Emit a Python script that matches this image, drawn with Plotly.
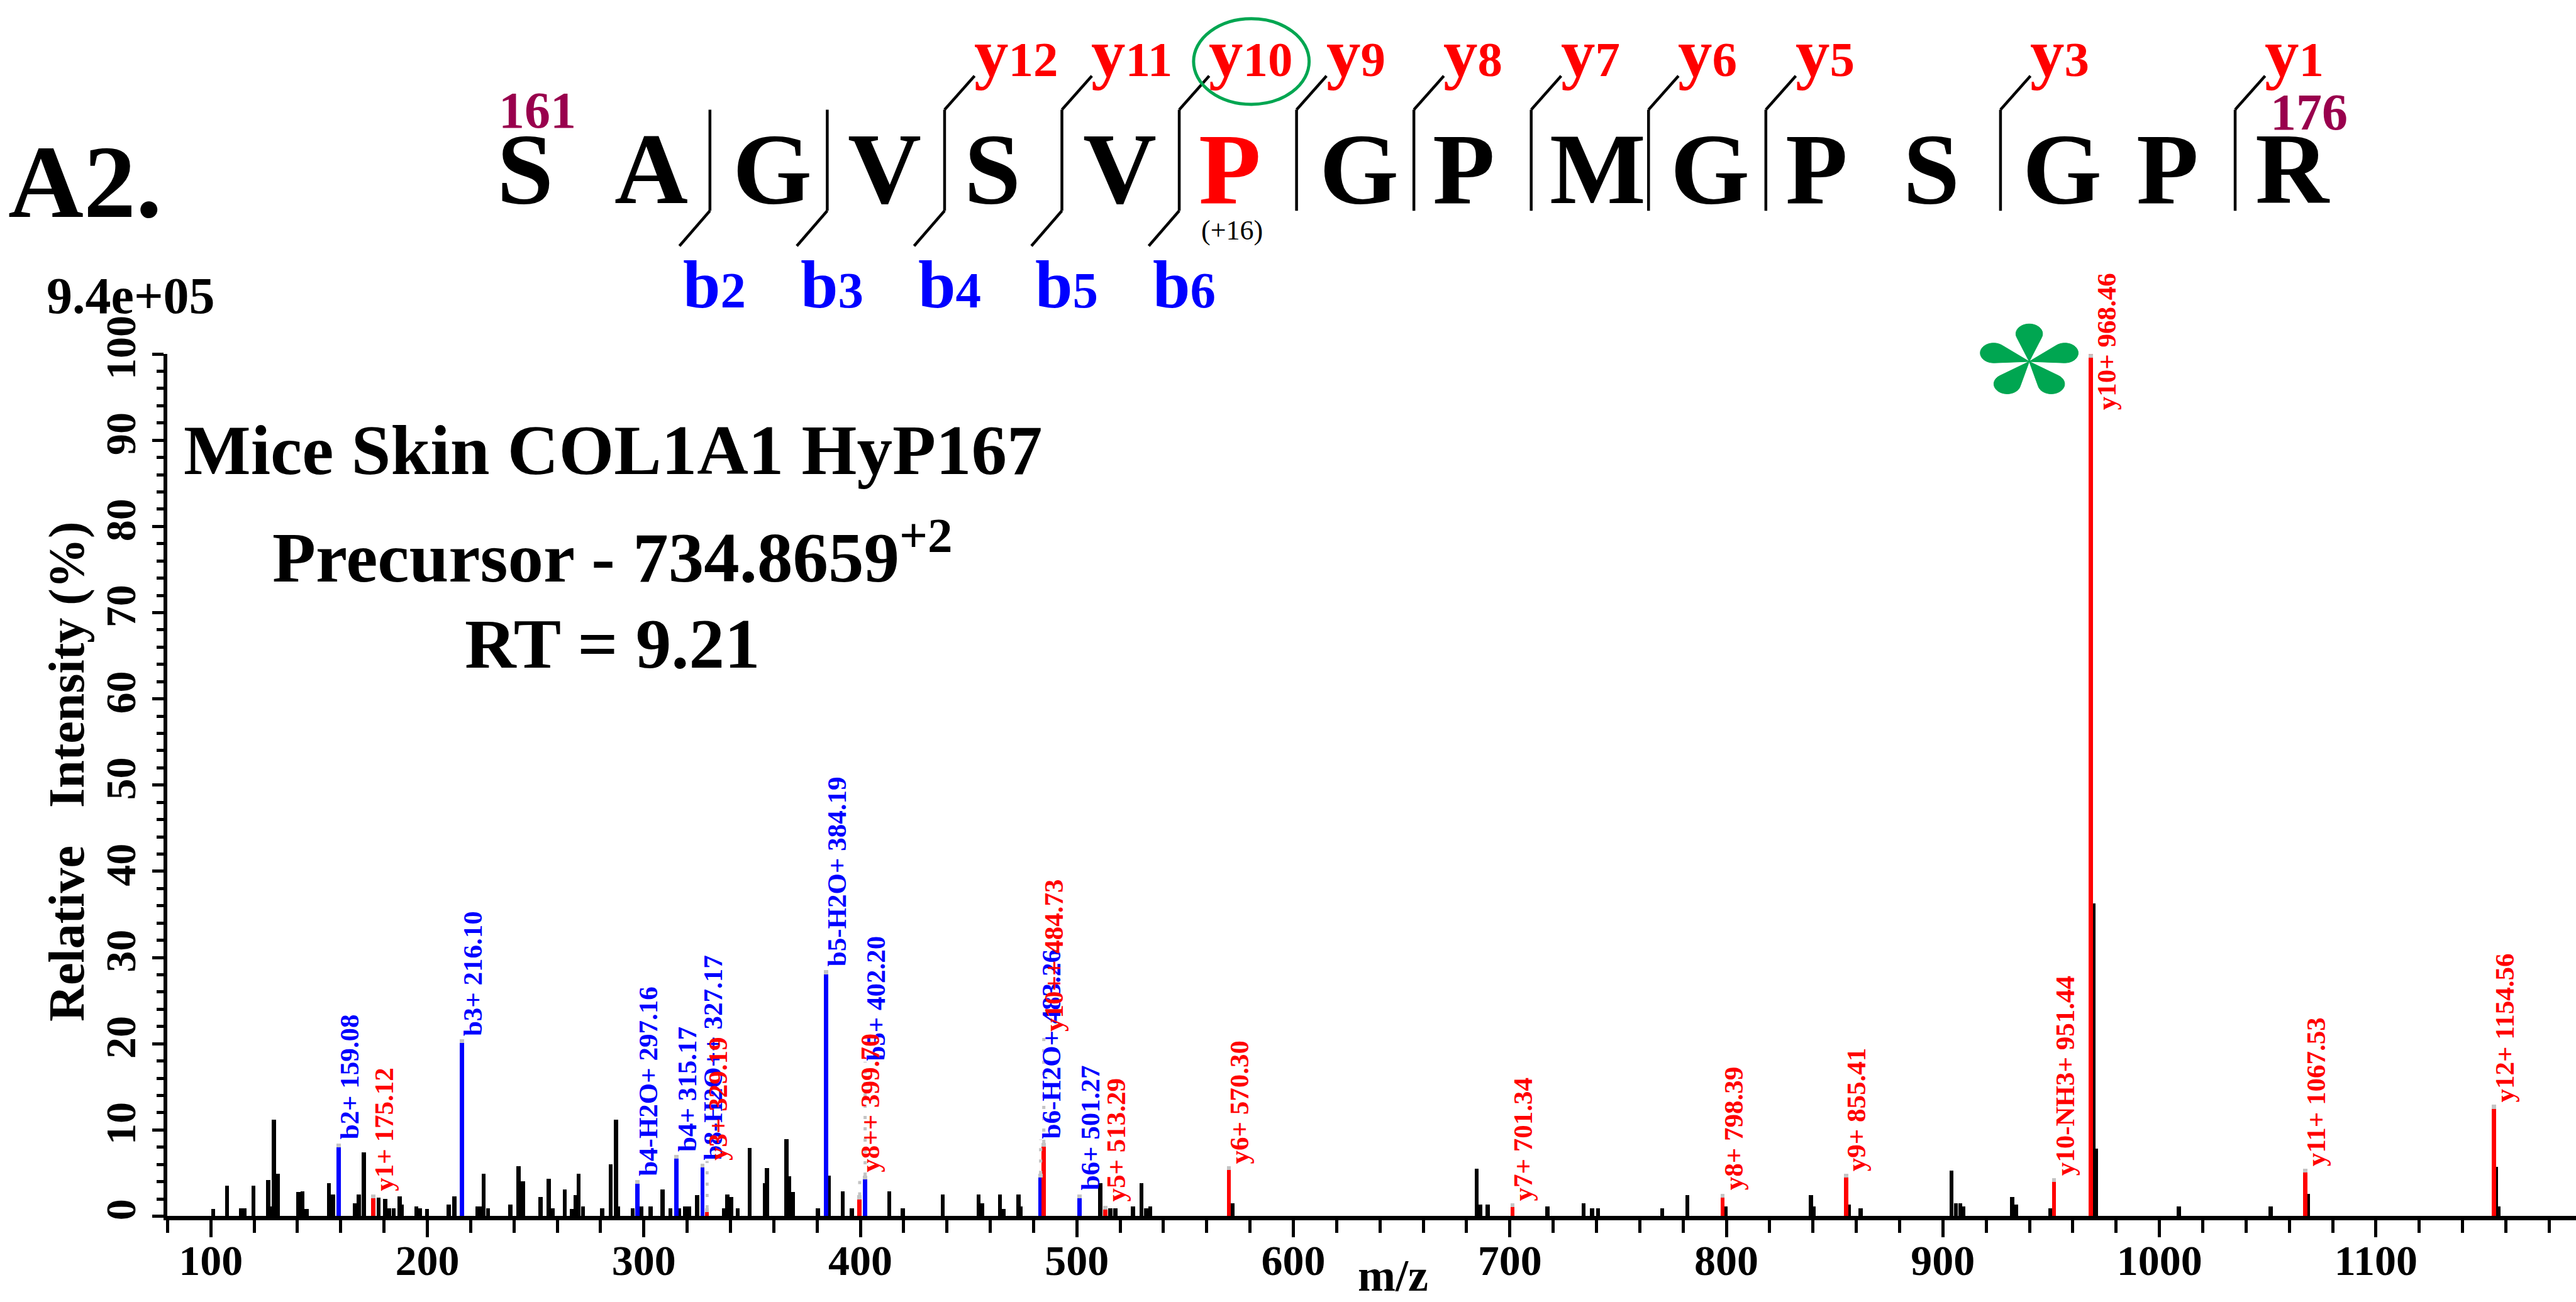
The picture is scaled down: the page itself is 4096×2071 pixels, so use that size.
import math
import plotly.graph_objects as go

W, H = 4096, 2071
K = W / 4815.0          # reference px -> window px
FONT = "Liberation Serif"

# ---------------- data ----------------
black_mz = [101.2, 107.6, 114.0, 115.6, 119.8, 126.6, 127.7, 129.3, 131.0, 140.5, 142.5, 144.3,
            154.6, 156.6, 166.5, 168.5, 170.7, 177.6, 180.7, 182.4, 184.6, 187.3, 188.4, 195.0,
            196.8, 199.9, 210.0, 212.6, 223.3, 224.8, 226.1, 228.1, 238.5, 242.2, 244.2, 252.4,
            256.1, 258.1, 263.6, 266.9, 268.5, 270.0, 272.0, 280.8, 284.8, 287.2, 288.3, 295.0,
            298.9, 303.3, 308.8, 312.4, 316.5, 319.2, 321.0, 324.7, 337.0, 338.6, 340.6, 343.5,
            349.0, 356.0, 356.9, 366.0, 367.3, 368.8, 380.5, 385.4, 392.0, 396.2, 413.5, 419.7,
            438.1, 454.7, 456.4, 464.6, 466.1, 473.1, 474.0, 510.9, 515.6, 517.9, 526.0, 530.0,
            532.1, 534.0, 572.0, 684.8, 686.5, 689.8, 717.5, 734.1, 738.1, 740.8, 770.5, 782.1,
            799.8, 839.1, 840.5, 856.5, 862.1, 904.1, 906.1, 908.1, 909.5, 932.1, 933.8, 949.8,
            969.6, 970.8, 1009.1, 1051.5, 1068.8, 1155.5, 1156.8]
black_int = [0.8, 3.5, 0.9, 0.9, 3.5, 4.2, 1.1, 11.2, 4.9, 2.8, 2.9, 0.8,
             3.8, 2.5, 1.5, 2.5, 7.4, 2.1, 2.0, 0.9, 0.9, 2.3, 1.3, 1.1,
             0.9, 0.8, 1.3, 2.3, 1.1, 1.1, 4.9, 0.9, 1.3, 5.8, 4.0, 2.2,
             4.3, 0.9, 3.1, 0.8, 2.4, 4.9, 1.1, 0.9, 6.0, 11.2, 1.1, 0.9,
             1.1, 1.1, 3.1, 0.9, 0.9, 1.1, 1.1, 2.4, 0.9, 2.5, 2.2, 0.9,
             7.9, 3.8, 5.6, 8.9, 4.6, 2.8, 0.9, 4.7, 2.9, 0.9, 2.9, 0.9,
             2.5, 2.5, 1.5, 2.5, 0.8, 2.5, 1.1, 3.8, 0.9, 0.9, 1.1, 3.8,
             0.9, 1.1, 1.5, 5.5, 1.3, 1.3, 1.1, 1.5, 0.9, 0.9, 0.9, 2.4,
             1.1, 2.4, 1.1, 1.3, 0.9, 5.3, 1.5, 1.5, 1.1, 2.2, 1.3, 0.9,
             36.3, 7.8, 1.1, 1.1, 2.6, 5.7, 1.1]

b_ion_labels = ["b2+ 159.08", "b3+ 216.10", "b4-H2O+ 297.16", "b4+ 315.17", "b8-H2O++ 327.17",
                "b5-H2O+ 384.19", "b5+ 402.20", "b6-H2O+ 483.26", "b6+ 501.27"]
b_ion_mz = [159.08, 216.10, 297.16, 315.17, 327.17, 384.19, 402.20, 483.26, 501.27]
b_ion_int = [8.4, 20.5, 4.2, 7.1, 6.1, 28.5, 4.7, 4.9, 2.5]
b_label_at = [8.8, 20.8, 4.6, 7.4, 6.4, 28.9, 17.9, 8.9, 2.9]

y_ion_labels = ["y1+ 175.12", "y3+ 329.19", "y8++ 399.70", "y10++ 484.73", "y5+ 513.29",
                "y6+ 570.30", "y7+ 701.34", "y8+ 798.39", "y9+ 855.41", "y10-NH3+ 951.44",
                "y10+ 968.46", "y11+ 1067.53", "y12+ 1154.56"]
y_ion_mz = [175.12, 329.19, 399.70, 484.73, 513.29, 570.30, 701.34, 798.39, 855.41, 951.44,
            968.46, 1067.53, 1154.56]
y_ion_int = [2.5, 0.9, 2.4, 8.5, 1.2, 5.8, 1.5, 2.6, 4.9, 4.4, 100.0, 5.5, 12.9]
y_label_at = [2.8, 6.4, 5.0, 21.3, 1.6, 6.0, 1.7, 2.9, 5.1, 4.6, 93.4, 5.7, 13.1]

sequence = list("SAGVSVPGPMGPSGPR")
modified_index = 6            # P (+16)
b_fragments = [2, 3, 4, 5, 6]
y_fragments = [12, 11, 10, 9, 8, 7, 6, 5, 3, 1]
start_residue, end_residue = "161", "176"
scale_text = "9.4e+05"
panel_text = "A2."
info_lines = ["Mice Skin COL1A1 HyP167", "Precursor - 734.8659<sup>+2</sup>", "RT = 9.21"]

BLUE, RED, GREEN, PURPLE, GREY = "#0000FF", "#FF0000", "#00A651", "#99004D", "#C4C4C4"

# ---------------- layout helpers (reference px -> paper) ----------------
def PX(x_ref):
    return x_ref * K / W

def PY(y_ref):
    return 1 - y_ref * K / H

def mid_from_base(base_ref, size_win):
    # centre of the text box, given the baseline (ref px) and font size (window px)
    return PY(base_ref - 0.3375 * size_win / K)

ann = []

def text(t, x, y, size, color="black", bold=True, xanchor="center", yanchor="middle",
         angle=0, xref="paper", yref="paper", xshift=0):
    ann.append(dict(text=t, x=x, y=y, xref=xref, yref=yref, showarrow=False,
                    font=dict(family=FONT, size=size, color=color,
                              weight="bold" if bold else "normal"),
                    xanchor=xanchor, yanchor=yanchor, textangle=angle, xshift=xshift,
                    borderpad=0))

fig = go.Figure()

# ---------------- spectrum ----------------
BW = 1.9
fig.add_trace(go.Bar(x=black_mz, y=black_int, width=BW, marker=dict(color="black", line=dict(width=0))))
fig.add_trace(go.Bar(x=b_ion_mz, y=b_ion_int, width=BW, marker=dict(color=BLUE, line=dict(width=0))))
fig.add_trace(go.Bar(x=y_ion_mz, y=y_ion_int, width=BW, marker=dict(color=RED, line=dict(width=0))))
cap = 0.45
all_mz = b_ion_mz + y_ion_mz
all_int = b_ion_int + y_ion_int
fig.add_trace(go.Bar(x=all_mz, y=[cap] * len(all_mz), base=[v - cap for v in all_int], width=BW,
                     marker=dict(color=GREY, line=dict(width=0))))

# dotted connectors for labels lifted above their peaks
dx, dy = [], []
for mz, v, lab in zip(all_mz, all_int, b_label_at + y_label_at):
    if lab > v + 1.0:
        dx += [mz, mz, None]
        dy += [v, lab, None]
fig.add_trace(go.Scatter(x=dx, y=dy, mode="lines",
                         line=dict(color=GREY, width=5, dash="5px,13px")))

for labs, mzs, ints, ats, col in [(b_ion_labels, b_ion_mz, b_ion_int, b_label_at, BLUE),
                                  (y_ion_labels, y_ion_mz, y_ion_int, y_label_at, RED)]:
    for lab, mz, v, at in zip(labs, mzs, ints, ats):
        shift = 0 if at < v else -8
        text(lab, mz, at, 43, color=col, xanchor="left", yanchor="bottom", angle=-90,
             xref="x", yref="y", xshift=shift)

# ---------------- peptide sequence ----------------
letter_cx = [981, 1217, 1443, 1653, 1855, 2093, 2299, 2540, 2736, 2987, 3196, 3395, 3610, 3854,
             4052, 4286]
SEQ_SIZE = 162
for i, (aa, cx) in enumerate(zip(sequence, letter_cx)):
    text(aa, PX(cx), mid_from_base(380, SEQ_SIZE), SEQ_SIZE,
         color=RED if i == modified_index else "black")
text("(+16)", PX(2303), PY(431), 44, bold=False)
text(start_residue, PX(1004), mid_from_base(239, 82), 82, color=PURPLE)
text(end_residue, PX(4316), mid_from_base(242, 82), 82, color=PURPLE)

n = len(sequence)
shapes = []
def sep_x(after):
    return 1327 + 219.3 * (after - 2)

def seg(x0, y0, x1, y1):
    shapes.append(dict(type="line", xref="paper", yref="paper", x0=PX(x0), y0=PY(y0),
                       x1=PX(x1), y1=PY(y1), line=dict(color="black", width=4.5)))

breaks = sorted(set(b_fragments) | set(n - f for f in y_fragments))
for j in breaks:
    seg(sep_x(j), 205, sep_x(j), 394)
for f in b_fragments:
    x = sep_x(f)
    seg(x, 394, x - 57, 460)
    text("b<span style='font-size:81px'>%d</span>" % f, PX(x - 51), mid_from_base(575, 107), 107,
         color=BLUE, xanchor="left")
for f in y_fragments:
    x = sep_x(n - f)
    seg(x, 205, x + 56, 142)
    text("y<span style='font-size:79px'>%d</span>" % f, PX(x + 54), mid_from_base(142, 109), 109,
         color=RED, xanchor="left")

# green circle around y10
shapes.append(dict(type="circle", xref="paper", yref="paper",
                   x0=PX(2339 - 108), x1=PX(2339 + 108), y0=PY(115 + 80), y1=PY(115 - 80),
                   line=dict(color=GREEN, width=5)))

# green asterisk next to the base peak
def star_path(cx, cy, R, rb, ys):
    d = R - rb
    a = math.asin(rb / d)
    t = math.sqrt(d * d - rb * rb)
    parts = []
    for deg in [90, 18, -54, -126, 162]:
        th = math.radians(deg)
        pts = [(0.0, 0.0), (t * math.cos(th + a), t * math.sin(th + a))]
        c = (d * math.cos(th), d * math.sin(th))
        start, end = th + math.pi / 2 + a, th - math.pi / 2 - a
        for k in range(25):
            ang = start + (end - start) * k / 24
            pts.append((c[0] + rb * math.cos(ang), c[1] + rb * math.sin(ang)))
        pts.append((0.0, 0.0))
        s = ""
        for k, (px_, py_) in enumerate(pts):
            X = (cx + px_) / W
            Y = 1 - (cy - py_ * ys) / H
            s += ("M" if k == 0 else "L") + "%.5f,%.5f" % (X, Y)
        parts.append(s + "Z")
    return "".join(parts)

shapes.append(dict(type="path", xref="paper", yref="paper",
                   path=star_path(3793 * K, 676 * K, 95 * K, 25 * K, 0.74),
                   fillcolor=GREEN, line=dict(color=GREEN, width=1)))

# ---------------- other texts ----------------
text(panel_text, PX(14), mid_from_base(406, 166), 166, xanchor="left")
text(scale_text, PX(86), mid_from_base(586, 82), 82, xanchor="left")
text(info_lines[0], PX(1145), mid_from_base(886, 113), 113)
text(info_lines[1], PX(1145), mid_from_base(1077, 113), 113)
text(info_lines[2], PX(1145), mid_from_base(1248, 113), 113)
text("Relative\u00a0\u00a0\u00a0Intensity (%)", PX(125), PY(1443), 80, angle=-90)
text("m/z", PX(2604), mid_from_base(2414, 72), 72)

tickfont = dict(family=FONT, size=68, color="black", weight="bold")
fig.update_layout(
    width=W, height=H, margin=dict(l=0, r=0, t=0, b=0), autosize=False,
    paper_bgcolor="white", plot_bgcolor="white", showlegend=False, barmode="overlay",
    bargap=0, annotations=ann, shapes=shapes, template=None,
    xaxis=dict(domain=[313.1 * K / W, 1], range=[80, 1192.4], showline=True, linecolor="black",
               linewidth=7, ticks="outside", ticklen=27, tickwidth=5, tickcolor="black",
               tick0=0, dtick=100, tickfont=tickfont, showgrid=False, zeroline=False,
               automargin=False, ticklabelstandoff=-22,
               minor=dict(tick0=0, dtick=20, ticks="outside", ticklen=20, tickwidth=5,
                          tickcolor="black", showgrid=False)),
    yaxis=dict(domain=[PY(2274), PY(662)], range=[0, 100], showline=True, linecolor="black",
               linewidth=6, ticks="outside", ticklen=18, tickwidth=5, tickcolor="black",
               tick0=0, dtick=10, tickangle=-90, tickfont=tickfont, showgrid=False,
               zeroline=False, automargin=False,
               minor=dict(tick0=0, dtick=2, ticks="outside", ticklen=11, tickwidth=5,
                          tickcolor="black", showgrid=False)),
)

fig.write_html("out.html")
